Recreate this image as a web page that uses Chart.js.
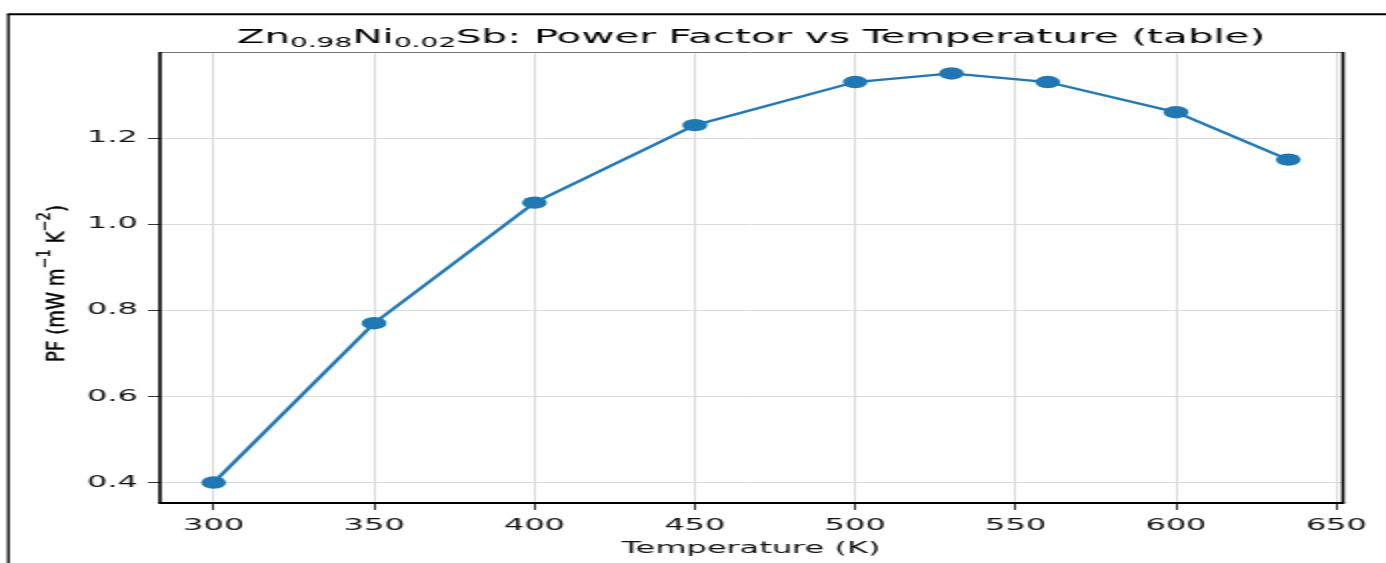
<!DOCTYPE html>
<html>
<head>
<meta charset="utf-8">
<script src="https://cdn.jsdelivr.net/npm/chart.js@4.4.1/dist/chart.umd.min.js"></script>
<style>
  html, body { margin: 0; padding: 0; background: #fff; overflow: hidden; }
  /* the figure is drawn narrow and stretched 2x sideways */
  #wrap { width: 693px; height: 563px; transform: scaleX(2); transform-origin: 0 0; }
</style>
</head>
<body>
<div id="wrap"><canvas id="pfchart" width="693" height="563"></canvas></div>
<script>
// measured power factor of Zn0.98Ni0.02Sb
const temperatures = [300, 350, 400, 450, 500, 530, 560, 600, 635];
const powerFactor = [0.40, 0.77, 1.05, 1.23, 1.33, 1.35, 1.33, 1.26, 1.15];

const xTicks = [300, 350, 400, 450, 500, 550, 600, 650];
const yTicks = [0.4, 0.6, 0.8, 1.0, 1.2];

const titleRuns = [
  { text: "Zn", sub: false },
  { text: "0.98", sub: true },
  { text: "Ni", sub: false },
  { text: "0.02", sub: true },
  { text: "Sb: Power Factor vs Temperature (table)", sub: false },
];
const yLabelRuns = [
  { text: "PF (mW m", sup: false },
  { text: "\u22121", sup: true },
  { text: " K", sup: false },
  { text: "\u22122", sup: true },
  { text: ")", sup: false },
];
const xLabel = "Temperature (K)";

const FONT = "'DejaVu Sans', Verdana, sans-serif";
const BLUE = "#1f77b4";

// matplotlib style 5% margins
const pad = (lo, hi) => [lo - (hi - lo) * 0.05, hi + (hi - lo) * 0.05];
const [xMin, xMax] = pad(Math.min(...temperatures), Math.max(...temperatures));
const [yMin, yMax] = pad(Math.min(...powerFactor), Math.max(...powerFactor));

const points = temperatures.map((t, i) => ({ x: t, y: powerFactor[i] }));

const titlePlugin = {
  id: "mathTitle",
  afterDraw(chart) {
    const ctx = chart.ctx;
    const { left, right } = chart.chartArea;
    const main = "20.2px " + FONT, small = "14px " + FONT;
    ctx.save();
    let total = 0;
    titleRuns.forEach(r => {
      ctx.font = r.sub ? small : main;
      total += ctx.measureText(r.text).width;
    });
    let x = (left + right) / 2 - total / 2;
    const base = 43;
    ctx.fillStyle = "#000";
    ctx.textBaseline = "alphabetic";
    ctx.textAlign = "left";
    titleRuns.forEach(r => {
      ctx.font = r.sub ? small : main;
      ctx.fillText(r.text, x, r.sub ? base + 3.5 : base);
      x += ctx.measureText(r.text).width;
    });
    ctx.restore();
  }
};

const yLabelPlugin = {
  id: "yLabel",
  afterDraw(chart) {
    const ctx = chart.ctx;
    const main = "16px " + FONT, small = "11.5px " + FONT;
    ctx.save();
    let total = 0;
    yLabelRuns.forEach(r => {
      ctx.font = r.sup ? small : main;
      total += ctx.measureText(r.text).width;
    });
    const span = 157;
    ctx.translate(31.5, 283.5);
    ctx.rotate(-Math.PI / 2);
    ctx.scale(span / total, 0.76);
    ctx.fillStyle = "#000";
    ctx.strokeStyle = "#000";
    ctx.lineWidth = 0.35;
    ctx.textBaseline = "alphabetic";
    let x = -total / 2;
    yLabelRuns.forEach(r => {
      ctx.font = r.sup ? small : main;
      const y = r.sup ? -9 : 0;
      ctx.fillText(r.text, x, y);
      ctx.strokeText(r.text, x, y);
      x += ctx.measureText(r.text).width;
    });
    ctx.restore();
  }
};

const framePlugin = {
  id: "frame",
  afterDraw(chart) {
    const ctx = chart.ctx;
    const { left, right, top, bottom } = chart.chartArea;
    ctx.save();
    // outer border
    ctx.strokeStyle = "#000";
    ctx.lineWidth = 1.3;
    ctx.beginPath();
    ctx.moveTo(4.2, chart.height);
    ctx.lineTo(4.2, 14.3);
    ctx.stroke();
    ctx.lineWidth = 2;
    ctx.beginPath();
    ctx.moveTo(3.6, 14.3);
    ctx.lineTo(chart.width, 14.3);
    ctx.stroke();
    // spines
    ctx.strokeStyle = "#777";
    ctx.lineWidth = 1;
    ctx.beginPath();
    ctx.moveTo(left, top - 0.5);
    ctx.lineTo(right, top - 0.5);
    ctx.stroke();
    ctx.strokeStyle = "#000";
    ctx.lineWidth = 1.6;
    ctx.beginPath();
    ctx.moveTo(left, top - 1);
    ctx.lineTo(left, bottom);
    ctx.moveTo(right + 0.5, top - 1);
    ctx.lineTo(right + 0.5, bottom);
    ctx.stroke();
    ctx.lineWidth = 2;
    ctx.beginPath();
    ctx.moveTo(left - 0.8, bottom);
    ctx.lineTo(right + 1.3, bottom);
    ctx.stroke();
    ctx.restore();
  }
};

new Chart(document.getElementById("pfchart"), {
  type: "line",
  data: {
    datasets: [{
      data: points,
      borderColor: BLUE,
      backgroundColor: BLUE,
      borderWidth: 2.3,
      pointRadius: 6.2,
      pointHoverRadius: 6.2,
      pointBorderWidth: 0,
      pointBackgroundColor: BLUE,
      tension: 0,
      fill: false,
    }]
  },
  options: {
    responsive: false,
    animation: false,
    devicePixelRatio: 1,
    layout: { padding: { left: 0, right: 22, top: 53, bottom: 0 } },
    plugins: {
      legend: { display: false },
      tooltip: { enabled: false },
      title: { display: false },
    },
    scales: {
      x: {
        type: "linear",
        min: xMin,
        max: xMax,
        afterFit: s => { s.height = 60; },
        afterBuildTicks: s => { s.ticks = xTicks.map(v => ({ value: v })); },
        border: { display: false },
        grid: { color: "#dadada", lineWidth: 1, tickColor: "#333", tickLength: 7 },
        ticks: { color: "#111", font: { family: FONT, size: 16 }, padding: 6, maxRotation: 0 },
        title: {
          display: true,
          text: xLabel,
          color: "#111",
          font: { family: FONT, size: 16 },
          padding: { top: 0, bottom: 5 },
        },
      },
      y: {
        type: "linear",
        min: yMin,
        max: yMax,
        afterFit: s => { s.width = 80; },
        afterBuildTicks: s => { s.ticks = yTicks.map(v => ({ value: v })); },
        border: { display: false },
        grid: { color: "#dadada", lineWidth: 1, tickColor: "#333", tickLength: 6 },
        ticks: {
          color: "#111",
          font: { family: FONT, size: 16 },
          padding: 5,
          callback: v => v.toFixed(1),
        },
      },
    },
  },
  plugins: [titlePlugin, yLabelPlugin, framePlugin],
});
</script>
</body>
</html>
